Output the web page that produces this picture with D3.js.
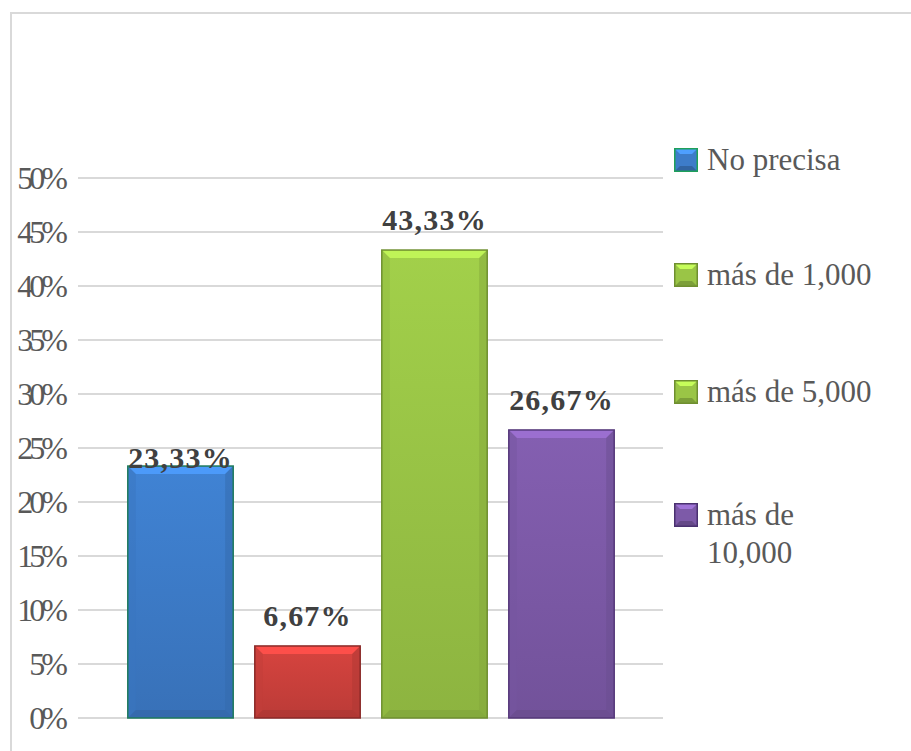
<!DOCTYPE html>
<html><head><meta charset="utf-8">
<script src="https://cdn.jsdelivr.net/npm/d3@7"></script>
<style>html,body{margin:0;padding:0;background:#fff;}svg{display:block;}</style>
</head><body>
<svg id="chart" width="911" height="751"></svg>
<script>
const categories = ["No precisa", "más de 1,000", "más de 5,000", "más de 10,000"];
const values = [23.33, 6.67, 43.33, 26.67];
const valueLabels = ["23,33%", "6,67%", "43,33%", "26,67%"];
const barColors = ["#3d7cc9", "#cc403c", "#9ac546", "#7d5aa8"];
const barStrokes = ["#1e7a5c", "#8a2a28", "#6f8f30", "#55387a"];
const legendColors = ["#3d7cc9", "#9ac546", "#9ac546", "#7d5aa8"];
const legendStrokes = ["#1fa05a", "#6f8f30", "#6f8f30", "#4a3170"];
const legendLines = [["No precisa"], ["más de 1,000"], ["más de 5,000"], ["más de", "10,000"]];
const yTicks = [0, 5, 10, 15, 20, 25, 30, 35, 40, 45, 50];

const svg = d3.select("#chart");
const serif = "'Liberation Serif', 'Times New Roman', serif";

// outer border
svg.append("rect").attr("x", 11).attr("y", 13).attr("width", 930).attr("height", 780)
  .attr("fill", "#fff").attr("stroke", "#d9d9d9").attr("stroke-width", 2);

const y = d3.scaleLinear().domain([0, 50]).range([718, 178]);
const x = d3.scaleBand().domain(categories).range([117, 625]).paddingInner(0.17).paddingOuter(0.085);

// gridlines
svg.append("g").selectAll("line").data(yTicks).join("line")
  .attr("x1", 78).attr("x2", 663)
  .attr("y1", d => y(d)).attr("y2", d => y(d))
  .attr("stroke", "#d9d9d9").attr("stroke-width", 2);

// y labels
svg.append("g").selectAll("text").data(yTicks).join("text")
  .attr("x", 64).attr("y", d => y(d) + 11)
  .attr("text-anchor", "end")
  .attr("font-family", serif).attr("font-size", 32)
  .attr("letter-spacing", -4)
  .attr("fill", "#595959")
  .text(d => d + "%");

// bars with bevel
const bev = 8;
const bars = svg.append("g").selectAll("g").data(categories).join("g");
bars.each(function(c, i) {
  const g = d3.select(this);
  const x0 = x(c), w = x.bandwidth(), y0 = y(values[i]), y1 = y(0), h = y1 - y0;
  const base = d3.color(barColors[i]);
  const gid = "grad" + i;
  const grad = svg.append("defs").append("linearGradient").attr("id", gid)
    .attr("x1", 0).attr("y1", 0).attr("x2", 0).attr("y2", 1);
  grad.append("stop").attr("offset", "0%").attr("stop-color", base.brighter(0.15));
  grad.append("stop").attr("offset", "100%").attr("stop-color", base.darker(0.25));
  g.append("rect").attr("x", x0).attr("y", y0).attr("width", w).attr("height", h)
    .attr("fill", `url(#${gid})`);
  const b = Math.min(bev, h / 2);
  g.append("polygon").attr("points", [[x0, y0], [x0 + w, y0], [x0 + w - b, y0 + b], [x0 + b, y0 + b]].join(" "))
    .attr("fill", base.brighter(0.6));
  g.append("polygon").attr("points", [[x0, y0], [x0 + b, y0 + b], [x0 + b, y1 - b], [x0, y1]].join(" "))
    .attr("fill", base.darker(0.15)).attr("opacity", 0.5);
  g.append("polygon").attr("points", [[x0 + w, y0], [x0 + w - b, y0 + b], [x0 + w - b, y1 - b], [x0 + w, y1]].join(" "))
    .attr("fill", base.darker(0.45)).attr("opacity", 0.5);
  g.append("polygon").attr("points", [[x0, y1], [x0 + b, y1 - b], [x0 + w - b, y1 - b], [x0 + w, y1]].join(" "))
    .attr("fill", base.darker(0.6)).attr("opacity", 0.5);
  g.append("rect").attr("x", x0).attr("y", y0).attr("width", w).attr("height", h)
    .attr("fill", "none").attr("stroke", barStrokes[i]).attr("stroke-width", 1.5);
});

// value labels
const labelGap = [-2, 20, 20, 20];
svg.append("g").selectAll("text").data(categories).join("text")
  .attr("x", c => x(c) + x.bandwidth() / 2)
  .attr("y", (c, i) => y(values[i]) - labelGap[i])
  .attr("text-anchor", "middle")
  .attr("font-family", serif).attr("font-size", 30).attr("font-weight", "bold")
  .attr("letter-spacing", 1.2)
  .attr("fill", "#404040")
  .text((c, i) => valueLabels[i]);

// legend
const legTop = [160, 275, 392, 515];
const leg = svg.append("g").selectAll("g").data(categories).join("g")
  .attr("transform", (c, i) => `translate(674, ${legTop[i]})`);
leg.each(function(c, i) {
  const g = d3.select(this);
  const s = 24, bb = 6;
  const base = d3.color(legendColors[i]);
  g.append("rect").attr("x", 0).attr("y", -s / 2).attr("width", s).attr("height", s)
    .attr("fill", base);
  g.append("polygon").attr("points", [[0, -s/2], [s, -s/2], [s - bb, -s/2 + bb], [bb, -s/2 + bb]].join(" "))
    .attr("fill", base.brighter(0.7));
  g.append("polygon").attr("points", [[0, s/2], [bb, s/2 - bb], [s - bb, s/2 - bb], [s, s/2]].join(" "))
    .attr("fill", base.darker(0.6));
  g.append("rect").attr("x", 0.75).attr("y", -s / 2 + 0.75).attr("width", s - 1.5).attr("height", s - 1.5)
    .attr("fill", "none").attr("stroke", legendStrokes[i]).attr("stroke-width", 1.5);
  g.selectAll("text").data(legendLines[i]).join("text")
    .attr("x", 33).attr("y", (d, j) => 10 + j * 38)
    .attr("font-family", serif).attr("font-size", 31)
    .attr("fill", "#595959")
    .text(d => d);
});
</script>
</body></html>
